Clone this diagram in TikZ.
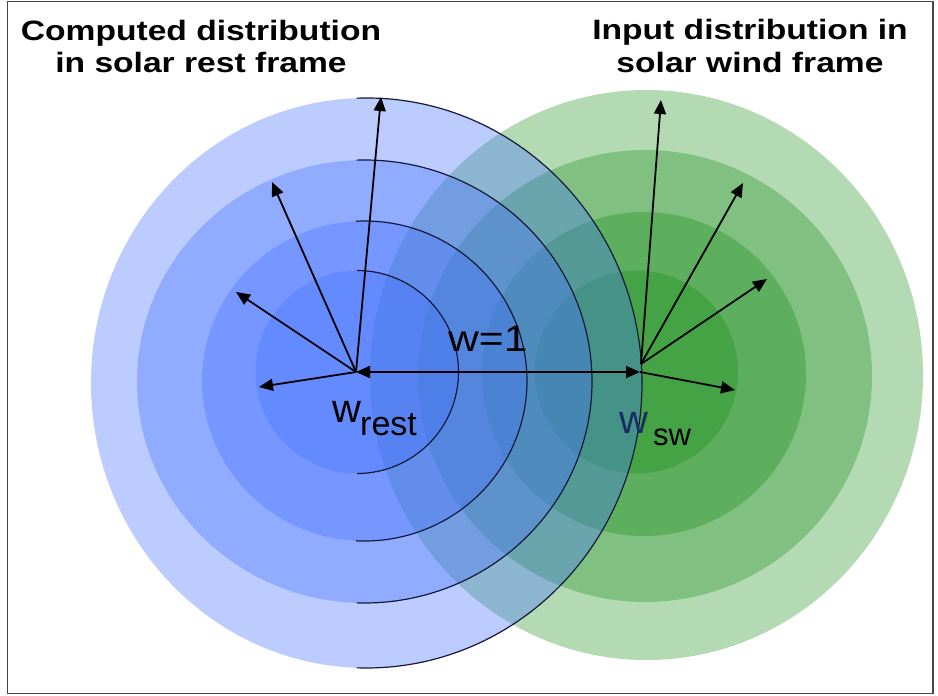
\documentclass[tikz,border=0pt]{standalone}
\usepackage{fontspec}
\setmainfont{Liberation Sans}
\newfontfamily\titlefont[FakeStretch=1.2]{Liberation Sans}
\newfontfamily\labelfont[FakeStretch=1.15]{Liberation Sans}
\usetikzlibrary{arrows.meta}

\definecolor{bluebase}{RGB}{70,115,255}
\definecolor{greenbase}{RGB}{13,136,13}
\definecolor{arcnavy}{RGB}{20,25,60}
\definecolor{framegray}{RGB}{70,70,70}
\definecolor{swnavy}{RGB}{25,45,100}

\begin{document}
\begin{tikzpicture}[x=1pt,y=-1pt,
  bluedisc/.style={fill=bluebase,fill opacity=0.36},
  greendisc/.style={fill=greenbase,fill opacity=0.31},
  shellarc/.style={draw=arcnavy,line width=1.2pt},
  vel/.style={draw=black,line width=1.8pt,-{Triangle[length=14pt,width=12pt]}},
  velboth/.style={draw=black,line width=1.8pt,{Triangle[length=14pt,width=12pt]}-{Triangle[length=14pt,width=12pt]}},
  title/.style={anchor=base,inner sep=0pt,font=\titlefont\bfseries\fontsize{28}{32}\selectfont},
  lbl/.style={anchor=base west,inner sep=0pt}]

\useasboundingbox (0,0) rectangle (938,696);

% frame
\draw[framegray,line width=1.5pt] (7.5,1.5) rectangle (933,693.5);

% solar wind frame distribution (green shells)
\fill[greendisc] (646.5,375) ellipse [x radius=276.5pt,y radius=285pt];
\fill[greendisc] (645,376)   ellipse [x radius=227pt,y radius=226pt];
\fill[greendisc] (644,374)   ellipse [x radius=162pt,y radius=162pt];
\fill[greendisc] (636.5,372) ellipse [x radius=101.5pt,y radius=101.5pt];

% solar rest frame distribution (blue shells)
\fill[bluedisc] (366.5,383) ellipse [x radius=275.5pt,y radius=285pt];
\fill[bluedisc] (364.5,381.5) ellipse [x radius=227.5pt,y radius=221.5pt];
\fill[bluedisc] (364.5,381) ellipse [x radius=162.5pt,y radius=160pt];
\fill[bluedisc] (357,372) ellipse [x radius=101.5pt,y radius=101.5pt];

% shell outlines on the right half
\draw[shellarc] ([shift={(92:275.5pt and 285pt)}]366.5,383)
  arc[start angle=92,end angle=-92,x radius=275.5pt,y radius=285pt];
\draw[shellarc] ([shift={(92:227.5pt and 221.5pt)}]364.5,381.5)
  arc[start angle=92,end angle=-92,x radius=227.5pt,y radius=221.5pt];
\draw[shellarc] ([shift={(93:162.5pt and 160pt)}]364.5,381)
  arc[start angle=93,end angle=-93,x radius=162.5pt,y radius=160pt];
\draw[shellarc] ([shift={(90:101.5pt and 101.5pt)}]357,372)
  arc[start angle=90,end angle=-90,x radius=101.5pt,y radius=101.5pt];

% velocity origins and tips
\coordinate (wrest) at (356,372);
\coordinate (wsw)   at (640,372);
\coordinate (swfan) at (641,364);
\coordinate (bt1) at (381,97);
\coordinate (bt2) at (272,182);
\coordinate (bt3) at (236,292);
\coordinate (bt4) at (259,387);
\coordinate (gt1) at (661,100);
\coordinate (gt2) at (743,183);
\coordinate (gt3) at (767,279);
\coordinate (gt4) at (735,390);

\draw[vel] (wrest) -- (bt1);
\draw[vel] (wrest) -- (bt2);
\draw[vel] (wrest) -- (bt3);
\draw[vel] (wrest) -- (bt4);
\draw[vel] (swfan) -- (gt1);
\draw[vel] (swfan) -- (gt2);
\draw[vel] (swfan) -- (gt3);
\draw[vel] (wsw) -- (gt4);
\draw[velboth] (wrest) -- (wsw);

% labels
\node[lbl,font=\labelfont\fontsize{37}{42}\selectfont] (wone) at (448,351) {w=1};
\node[lbl,font=\fontsize{40}{44}\selectfont] (wrestmain) at (332,422) {w};
\node[lbl,font=\fontsize{34}{38}\selectfont] (wrestsub) at (360,435) {rest};
\node[lbl,font=\fontsize{40}{44}\selectfont,text=swnavy] (wswmain) at (619,433) {w};
\node[lbl,font=\fontsize{31}{36}\selectfont] (wswsub) at (653,445) {sw};

% titles
\node[title] (lefta) at (201,40) {Computed distribution};
\node[title] (leftb) at (201,72) {in solar rest frame};
\node[title] (righta) at (750,39) {Input distribution in};
\node[title] (rightb) at (750,72) {solar wind frame};
\end{tikzpicture}
\end{document}
